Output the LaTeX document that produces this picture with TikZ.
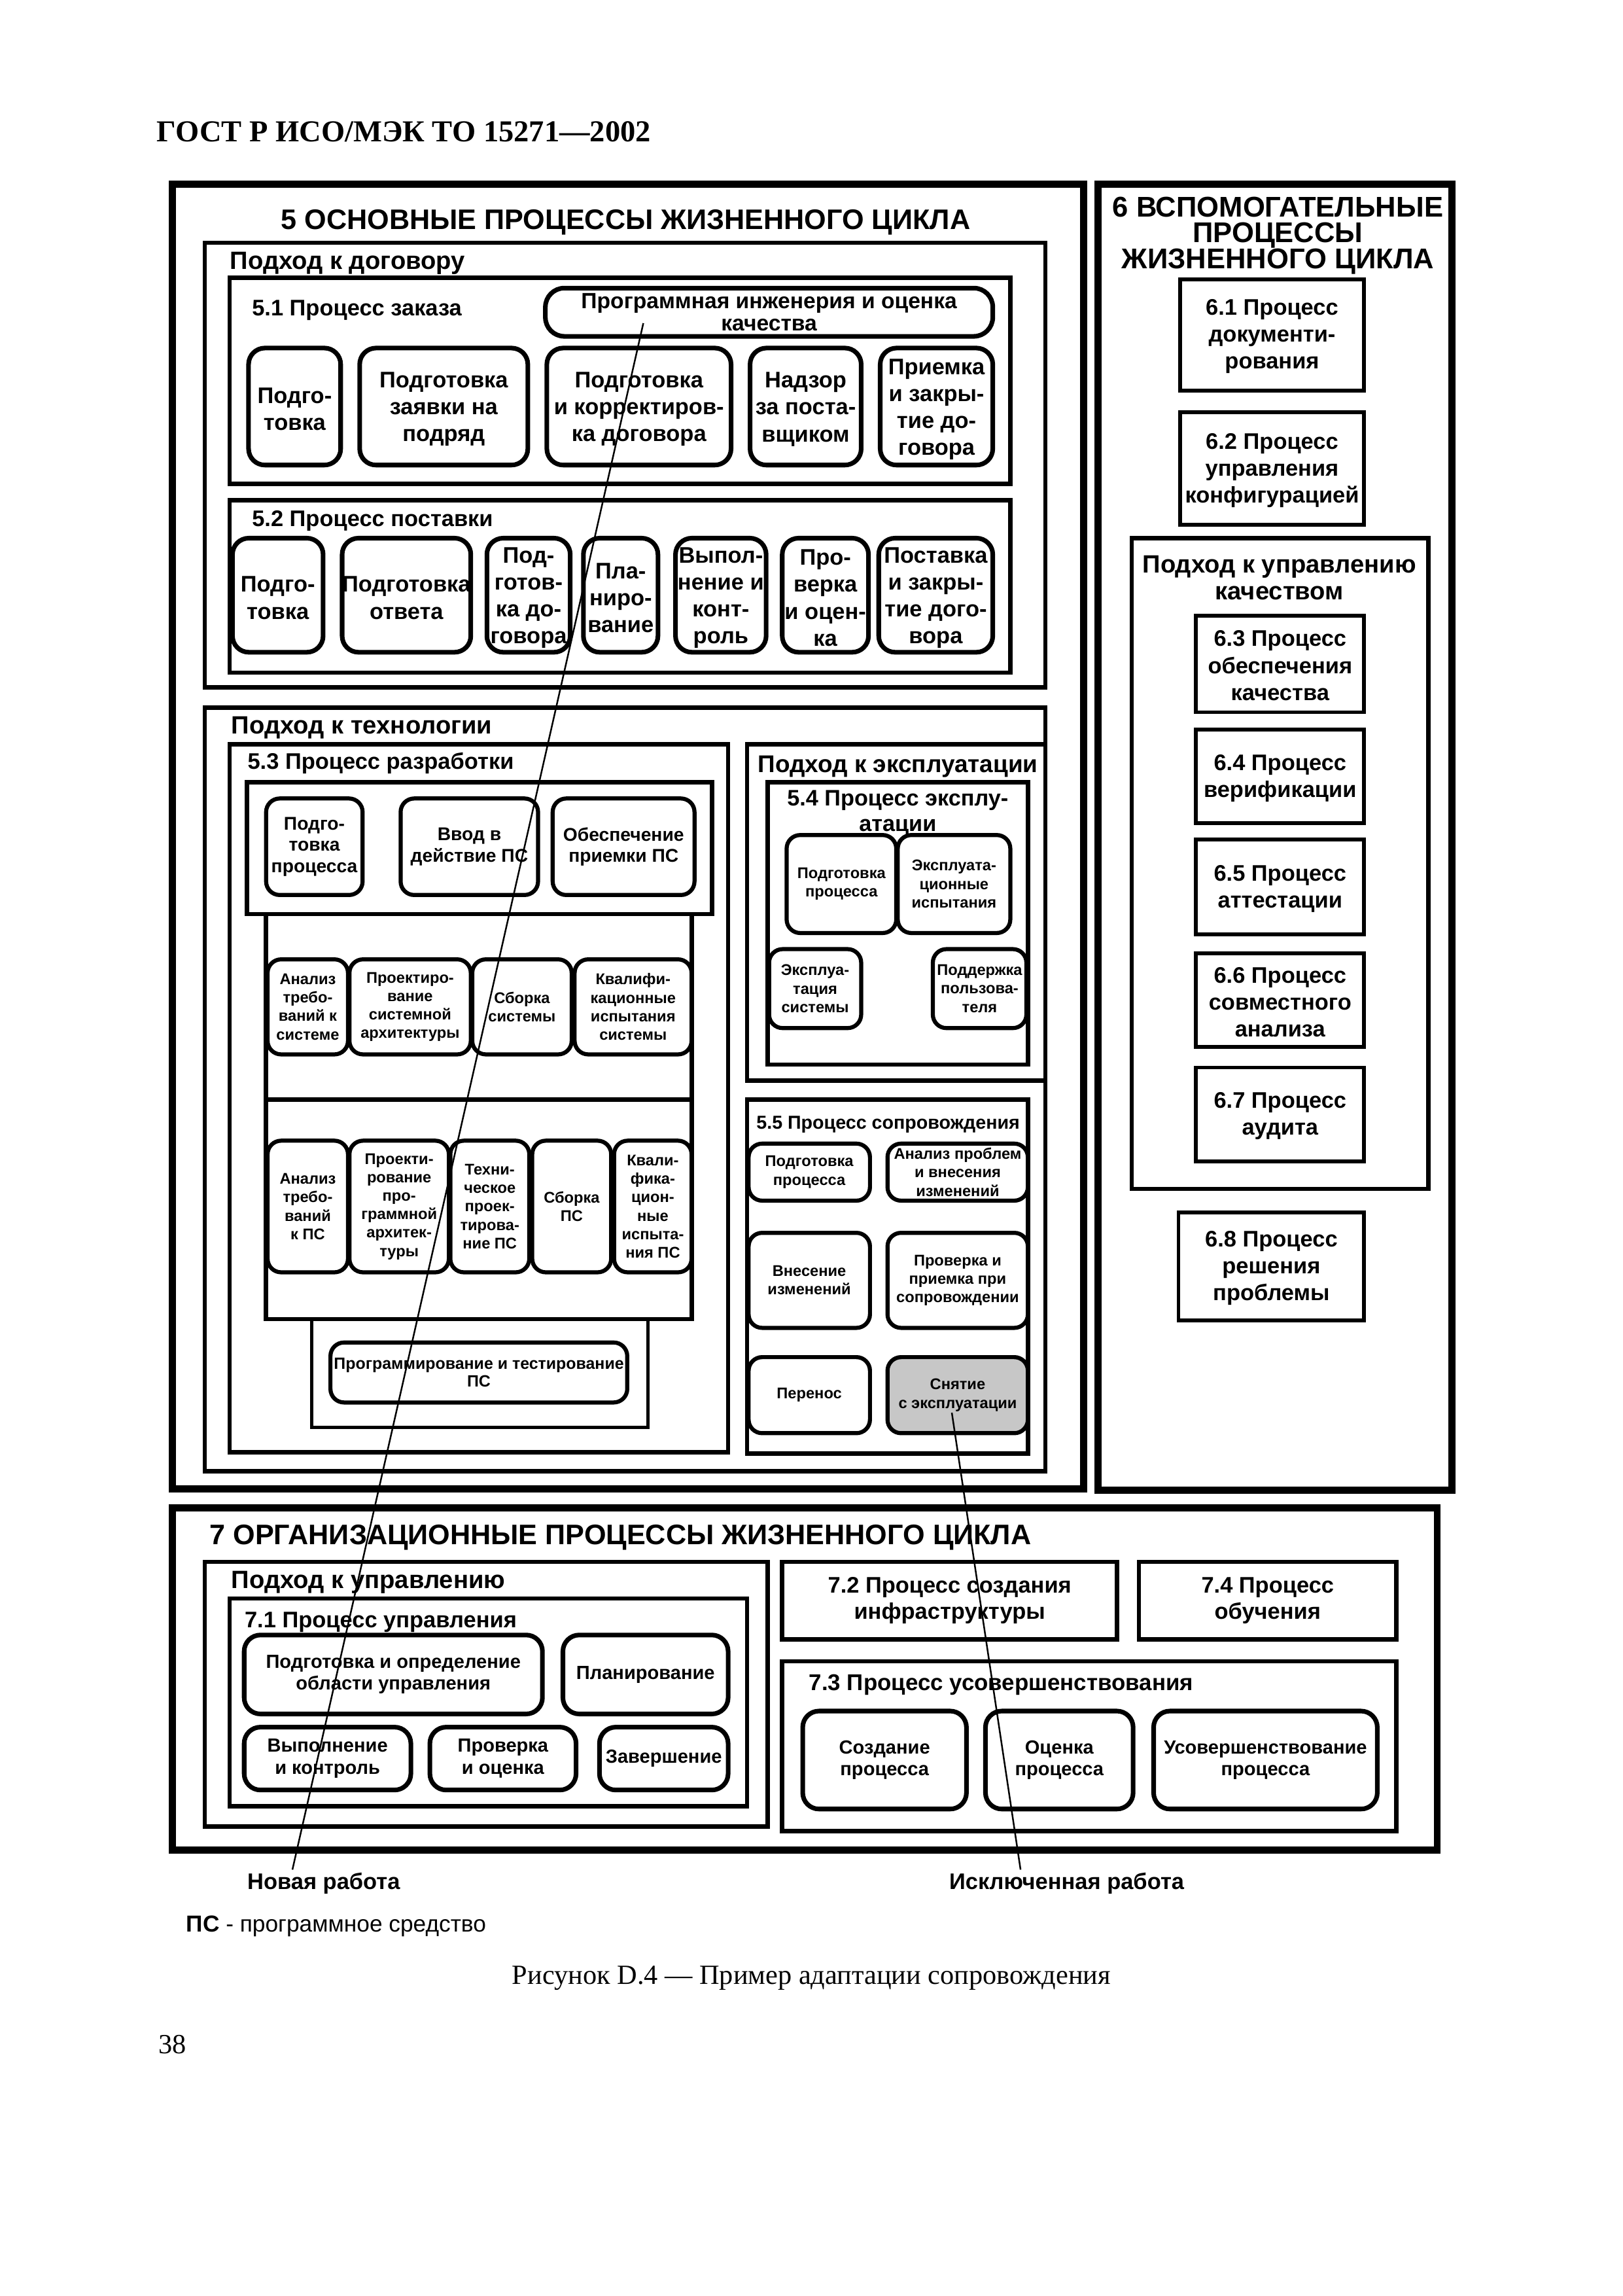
\documentclass[tikz,border=0pt]{standalone}
\usepackage{fontspec}
\setmainfont{Liberation Sans}
\newfontfamily\gostserif{Liberation Serif}
\usepackage{tikz}
\usetikzlibrary{fit}

\begin{document}
\begin{tikzpicture}[x=0.018919cm,y=-0.018919cm,
	sect/.style={draw,line width=2.6pt,inner sep=0pt},
	grp/.style={draw,line width=1.6pt,inner sep=0pt},
	rbox/.style={draw,line width=1.7pt,rounded corners=6pt,inner sep=0pt},
	rsml/.style={rbox,line width=1.5pt,rounded corners=5pt},
	sbox/.style={draw,line width=1.4pt,inner sep=0pt},
	every label/.style={inner sep=0pt,align=center},
	txa/.style={label={[yshift=-1pt,font=\bfseries\fontsize{8.3}{9.9}\selectfont]center:#1}},
	txp/.style={label={[font=\bfseries\fontsize{8.1}{8.3}\selectfont]center:#1}},
	txb/.style={label={[font=\bfseries\fontsize{6.8}{7.8}\selectfont]center:#1}},
	txc/.style={label={[font=\bfseries\fontsize{5.7}{6.8}\selectfont]center:#1}},
	txg/.style={label={[font=\bfseries\fontsize{6}{6.5}\selectfont]center:#1}},
	txd/.style={label={[yshift=-0.6pt,font=\bfseries\fontsize{8.3}{9.9}\selectfont]center:#1}},
	txe/.style={label={[font=\bfseries\fontsize{7}{8.1}\selectfont]center:#1}},
	txf/.style={label={[font=\bfseries\fontsize{8.3}{9.7}\selectfont]center:#1}},
	ttl/.style={inner sep=0pt,align=center,font=\bfseries\fontsize{10.4}{9.5}\selectfont},
	appl/.style={anchor=base west,inner sep=0pt,font=\bfseries\fontsize{9.2}{10}\selectfont},
	prl/.style={anchor=base west,inner sep=0pt,font=\bfseries\fontsize{8.3}{9.2}\selectfont},
	note/.style={anchor=base west,inner sep=1pt,font=\bfseries\fontsize{8.3}{10}\selectfont},
	lead/.style={line width=0.6pt}]
	\useasboundingbox[fill=white] (0,0) rectangle (1110,1570);
	\node[anchor=base west,inner sep=0pt,font=\gostserif\bfseries\fontsize{11.2}{13}\selectfont] (gost) at (107,97) {ГОСТ Р ИСО/МЭК ТО 15271—2002};

	\node[sect,fit={(118,126) (741,1018)}] (p5) {};
	\node[ttl,anchor=base] (p5t) at (428,157) {5 ОСНОВНЫЕ ПРОЦЕССЫ ЖИЗНЕННОГО ЦИКЛА};
	\node[grp,fit={(140,166) (715,470)}] (dog) {};
	\node[appl] (dogt) at (157,184) {Подход к договору};
	\node[grp,fit={(157,190) (691,331)}] (p51) {};
	\node[prl] (p51t) at (172,216) {5.1 Процесс заказа};
	\node[rbox,rounded corners=7pt,txp={Программная инженерия и оценка\\качества},fit={(373,197) (679,230)}] (pie) {};
	\node[rbox,txa={Подго-\\товка},fit={(170,238) (233,318)}] (z1) {};
	\node[rbox,txa={Подготовка\\заявки на\\подряд},fit={(246,238) (361,318)}] (z2) {};
	\node[rbox,txa={Подготовка\\и корректиров-\\ка договора},fit={(374,238) (500,318)}] (z3) {};
	\node[rbox,txa={Надзор\\за поста-\\вщиком},fit={(513,238) (589,318)}] (z4) {};
	\node[rbox,txa={Приемка\\и закры-\\тие до-\\говора},fit={(602,238) (679,318)}] (z5) {};
	\node[grp,fit={(157,342) (691,460)}] (p52) {};
	\node[prl] (p52t) at (172,360) {5.2 Процесс поставки};
	\node[rbox,txa={Подго-\\товка},fit={(159,368) (221,446)}] (s1) {};
	\node[rbox,txa={Подготовка\\ответа},fit={(234,368) (322,446)}] (s2) {};
	\node[rbox,txa={Под-\\готов-\\ка до-\\говора},fit={(333,368) (390,446)}] (s3) {};
	\node[rbox,txa={Пла-\\ниро-\\вание},fit={(399,368) (450,446)}] (s4) {};
	\node[rbox,txa={Выпол-\\нение и\\конт-\\роль},fit={(462,368) (524,446)}] (s5) {};
	\node[rbox,txa={Про-\\верка\\и оцен-\\ка},fit={(535,368) (594,446)}] (s6) {};
	\node[rbox,txa={Поставка\\и закры-\\тие дого-\\вора},fit={(601,368) (679,446)}] (s7) {};

	\node[grp,fit={(140,484) (715,1006)}] (tech) {};
	\node[appl] (techt) at (158,502) {Подход к технологии};
	\node[grp,fit={(157,509) (498,993)}] (p53) {};
	\node[prl] (p53t) at (169,526) {5.3 Процесс разработки};
	\node[grp,fit={(169,535) (487,625)}] (dtop) {};
	\node[rsml,txb={Подго-\\товка\\процесса},fit={(182,546) (248,612)}] (d1) {};
	\node[rsml,txb={Ввод в\\действие ПС},fit={(274,546) (368,612)}] (d2) {};
	\node[rsml,txb={Обеспечение\\приемки ПС},fit={(378,546) (475,612)}] (d3) {};
	\node[grp,fit={(182,625) (473,752)}] (dsys) {};
	\node[rsml,txc={Анализ\\требо-\\ваний к\\системе},fit={(183,656) (238,721)}] (y1) {};
	\node[rsml,txc={Проектиро-\\вание\\системной\\архитектуры},fit={(239,656) (322,721)}] (y2) {};
	\node[rsml,txc={Сборка\\системы},fit={(323,656) (391,721)}] (y3) {};
	\node[rsml,txc={Квалифи-\\кационные\\испытания\\системы},fit={(393,656) (473,721)}] (y4) {};
	\node[grp,fit={(182,752) (473,902)}] (dsw) {};
	\node[rsml,txc={Анализ\\требо-\\ваний\\к ПС},fit={(183,780) (238,870)}] (w1) {};
	\node[rsml,txc={Проекти-\\рование\\про-\\граммной\\архитек-\\туры},fit={(239,780) (307,870)}] (w2) {};
	\node[rsml,txc={Техни-\\ческое\\проек-\\тирова-\\ние ПС},fit={(308,780) (362,870)}] (w3) {};
	\node[rsml,txc={Сборка\\ПС},fit={(364,780) (418,870)}] (w4) {};
	\node[rsml,txc={Квали-\\фика-\\цион-\\ные\\испыта-\\ния ПС},fit={(420,780) (473,870)}] (w5) {};
	\node[grp,line width=1.2pt,fit={(213,902) (443,976)}] (dprg) {};
	\node[rsml,txg={Программирование и тестирование\\ПС},fit={(226,918) (429,959)}] (prg) {};

	\node[grp,fit={(511,509) (715,739)}] (expl) {};
	\node[appl,font=\bfseries\fontsize{8.9}{10}\selectfont] (explt) at (518,528) {Подход к эксплуатации};
	\node[grp,fit={(525,535) (703,728)}] (p54) {};
	\node[ttl,font=\bfseries\fontsize{8.25}{9.2}\selectfont] (p54t) at (614,556) {5.4 Процесс эксплу-\\атации};
	\node[rsml,txc={Подготовка\\процесса},fit={(538,571) (613,638)}] (e1) {};
	\node[rsml,txc={Эксплуата-\\ционные\\испытания},fit={(614,571) (691,638)}] (e2) {};
	\node[rsml,txc={Эксплуа-\\тация\\системы},fit={(526,649) (589,703)}] (e3) {};
	\node[rsml,txc={Поддержка\\пользова-\\теля},fit={(638,649) (702,703)}] (e4) {};

	\node[grp,fit={(511,752) (703,994)}] (p55) {};
	\node[prl,font=\bfseries\fontsize{6.9}{8}\selectfont] (p55t) at (517,772) {5.5 Процесс сопровождения};
	\node[rsml,txc={Подготовка\\процесса},fit={(512,782) (595,821)}] (m1) {};
	\node[rsml,txc={Анализ проблем\\и внесения\\изменений},fit={(607,782) (703,821)}] (m2) {};
	\node[rsml,txc={Внесение\\изменений},fit={(512,843) (595,908)}] (m3) {};
	\node[rsml,txc={Проверка и\\приемка при\\сопровождении},fit={(607,843) (703,908)}] (m4) {};
	\node[rsml,txc={Перенос},fit={(512,928) (595,980)}] (m5) {};
	\node[rsml,fill=black!22,txc={Снятие\\с эксплуатации},fit={(607,928) (703,980)}] (m6) {};

	\node[sect,fit={(751,126) (993,1019)}] (p6) {};
	\node[ttl,font=\bfseries\fontsize{10.5}{9.5}\selectfont] (p6t) at (874,161) {6 ВСПОМОГАТЕЛЬНЫЕ\\ПРОЦЕССЫ\\ЖИЗНЕННОГО ЦИКЛА};
	\node[sbox,txd={6.1 Процесс\\документи-\\рования},fit={(807,191) (933,267)}] (q1) {};
	\node[sbox,txd={6.2 Процесс\\управления\\конфигурацией},fit={(807,282) (933,359)}] (q2) {};
	\node[grp,fit={(774,368) (977,813)}] (qual) {};
	\node[ttl,font=\bfseries\fontsize{9.2}{10}\selectfont] (qualt) at (875,395) {Подход к управлению\\качеством};
	\node[sbox,txd={6.3 Процесс\\обеспечения\\качества},fit={(818,421) (933,487)}] (q3) {};
	\node[sbox,txd={6.4 Процесс\\верификации},fit={(818,499) (933,563)}] (q4) {};
	\node[sbox,txd={6.5 Процесс\\аттестации},fit={(818,574) (933,639)}] (q5) {};
	\node[sbox,txd={6.6 Процесс\\совместного\\анализа},fit={(818,652) (933,716)}] (q6) {};
	\node[sbox,txd={6.7 Процесс\\аудита},fit={(818,730) (933,794)}] (q7) {};
	\node[sbox,txd={6.8 Процесс\\решения\\проблемы},fit={(806,829) (933,903)}] (q8) {};

	\node[sect,fit={(118,1031) (983,1265)}] (p7) {};
	\node[ttl,anchor=base west] (p7t) at (143,1056) {7 ОРГАНИЗАЦИОННЫЕ ПРОЦЕССЫ ЖИЗНЕННОГО ЦИКЛА};
	\node[grp,fit={(140,1068) (525,1249)}] (upr) {};
	\node[appl] (uprt) at (158,1086) {Подход к управлению};
	\node[grp,fit={(157,1093) (511,1235)}] (p71) {};
	\node[prl] (p71t) at (167,1113) {7.1 Процесс управления};
	\node[rbox,txe={Подготовка и определение\\области управления},fit={(167,1118) (371,1172)}] (u1) {};
	\node[rbox,txe={Планирование},fit={(385,1118) (498,1172)}] (u2) {};
	\node[rbox,txe={Выполнение\\и контроль},fit={(167,1181) (281,1224)}] (u3) {};
	\node[rbox,txe={Проверка\\и оценка},fit={(294,1181) (394,1224)}] (u4) {};
	\node[rbox,txe={Завершение},fit={(410,1181) (498,1224)}] (u5) {};
	\node[sbox,line width=1.6pt,txf={7.2 Процесс создания\\инфраструктуры},fit={(535,1068) (764,1121)}] (p72) {};
	\node[sbox,line width=1.6pt,txf={7.4 Процесс\\обучения},fit={(779,1068) (955,1121)}] (p74) {};
	\node[grp,fit={(535,1136) (955,1252)}] (p73) {};
	\node[prl,font=\bfseries\fontsize{8.4}{9.2}\selectfont] (p73t) at (553,1156) {7.3 Процесс усовершенствования};
	\node[rbox,txe={Создание\\процесса},fit={(549,1170) (661,1237)}] (v1) {};
	\node[rbox,txe={Оценка\\процесса},fit={(674,1170) (775,1237)}] (v2) {};
	\node[rbox,txe={Усовершенствование\\процесса},fit={(789,1170) (942,1237)}] (v3) {};

	\node[note] (nwl) at (167,1292) {Новая работа};
	\node[note] (exl) at (647,1292) {Исключенная работа};
	\coordinate (nwtop) at (440,221);
	\coordinate (nwx) at (200,0);
	\coordinate (extop) at (651,966);
	\coordinate (exx) at (698,0);
	\draw[lead] (nwtop) -- (nwl.north -| nwx);
	\draw[lead] (extop) -- (exl.north -| exx);

	\node[anchor=base west,inner sep=0pt,font=\fontsize{8.5}{10}\selectfont] (ps) at (127,1321) {\textbf{ПС} - программное средство};
	\node[anchor=base,inner sep=0pt,font=\gostserif\fontsize{10.2}{12}\selectfont] (cap) at (555,1357) {Рисунок D.4 — Пример адаптации сопровождения};
	\node[anchor=base west,inner sep=0pt,font=\gostserif\fontsize{10.2}{12}\selectfont] (pg) at (108,1404) {38};
\end{tikzpicture}
\end{document}
